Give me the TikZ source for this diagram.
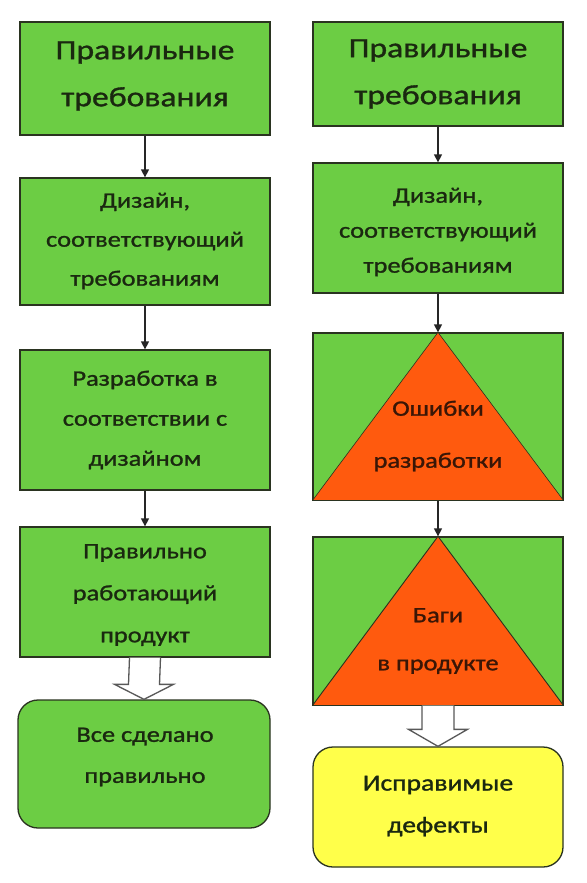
\documentclass[tikz,border=0pt]{standalone}
\usepackage{fontspec}
\setmainfont[FakeStretch=1.2,FakeBold=1.2]{Carlito}
\usetikzlibrary{arrows.meta,calc}
\definecolor{boxgreen}{HTML}{6CCD44}
\definecolor{boxorange}{HTML}{FF5A0E}
\definecolor{boxyellow}{HTML}{FFFF4A}
\definecolor{edgecol}{HTML}{2A3320}
\definecolor{txtcol}{HTML}{1A2810}
\definecolor{txtred}{HTML}{3A1606}
\definecolor{hollowcol}{HTML}{585858}
\tikzset{
  gbox/.style={draw=edgecol, line width=1.3pt, fill=boxgreen, inner sep=0pt, minimum width=250pt},
  rbox/.style={gbox, rounded corners=20pt},
  bigtxt/.style={text=txtcol, align=center, inner sep=0pt, font=\fontsize{28}{47}\selectfont},
  smalltxt/.style={text=txtcol, align=center, inner sep=0pt, font=\fontsize{22}{40}\selectfont},
  redtxt/.style={text=txtred, align=center, inner sep=0pt, font=\fontsize{22}{50}\selectfont},
  conn/.style={draw=black!85, line width=1.4pt, -{Triangle[length=8pt,width=8pt]}},
  hollow/.style={draw=hollowcol, line width=1.3pt, fill=white, line join=miter}
}
\begin{document}
\begin{tikzpicture}[x=1pt,y=-1pt]
\useasboundingbox[fill=white] (0,0) rectangle (586,883);
% left column
\node[gbox, minimum height=113pt] (L1) at (145,78.5) {};
\node[gbox, minimum height=127pt] (L2) at (145,241.5) {};
\node[gbox, minimum height=140pt] (L3) at (145,420) {};
\node[gbox, minimum height=130pt] (L4) at (145,592) {};
\node[rbox, minimum width=252pt, minimum height=128pt] (L5) at (144,764) {};
\node[bigtxt] (L1t) at (145,76) {Правильные\\требования};
\node[smalltxt, font=\fontsize{22}{39}\selectfont] (L2t) at (145,241) {Дизайн,\\соответствующий\\требованиям};
\node[smalltxt] (L3t) at (145,420) {Разработка в\\соответствии с\\дизайном};
\node[smalltxt, font=\fontsize{22}{42}\selectfont] (L4t) at (145,595) {Правильно\\работающий\\продукт};
\node[smalltxt, font=\fontsize{22}{41}\selectfont] (L5t) at (145,757) {Все сделано\\правильно};
\draw[conn] (L1.south) -- (L2.north);
\draw[conn] (L2.south) -- (L3.north);
\draw[conn] (L3.south) -- (L4.north);
\draw[hollow] ($(L4.south)+(-15.5,0)$) -- ($(L5.north)+(-15.5,-15)$) -- ($(L5.north)+(-29.5,-15)$)
  -- (L5.north) -- ($(L5.north)+(29.5,-15)$) -- ($(L5.north)+(15.5,-15)$) -- ($(L4.south)+(15.5,0)$);
% right column
\node[gbox, minimum height=104pt] (R1) at (438,74) {};
\node[gbox, minimum height=130pt] (R2) at (438,228) {};
\node[gbox, minimum height=167pt] (R3) at (438,416.5) {};
\node[gbox, minimum height=168pt] (R4) at (438,621) {};
\node[rbox, fill=boxyellow, minimum height=120pt] (R5) at (438,807) {};
\fill[boxorange] (R3.north) -- (R3.south east) -- (R3.south west) -- cycle;
\draw[edgecol, line width=0.6pt] (R3.south west) -- (R3.north) -- (R3.south east);
\fill[boxorange] (R4.north) -- (R4.south east) -- (R4.south west) -- cycle;
\draw[edgecol, line width=0.9pt] (R4.south west) -- (R4.north) -- (R4.south east);
\draw[edgecol, line width=1.3pt] (R3.north west) rectangle (R3.south east);
\draw[edgecol, line width=1.3pt] (R4.north west) rectangle (R4.south east);
\node[bigtxt] (R1t) at (438,74) {Правильные\\требования};
\node[smalltxt, font=\fontsize{22}{35}\selectfont] (R2t) at (438,232) {Дизайн,\\соответствующий\\требованиям};
\node[redtxt, font=\fontsize{22}{52}\selectfont] (R3t) at (438,436) {Ошибки\\разработки};
\node[redtxt, font=\fontsize{22}{48}\selectfont] (R4t) at (438,641) {Баги\\в продукте};
\node[smalltxt, font=\fontsize{23}{42}\selectfont] (R5t) at (438,806) {Исправимые\\дефекты};
\draw[conn] (R1.south) -- (R2.north);
\draw[conn] (R2.south) -- (R3.north);
\draw[conn] (R3.south) -- (R4.north);
\draw[hollow] ($(R4.south)+(-16,0)$) -- ($(R5.north)+(-16,-17)$) -- ($(R5.north)+(-29.5,-17)$)
  -- (R5.north) -- ($(R5.north)+(29.5,-17)$) -- ($(R5.north)+(16,-17)$) -- ($(R4.south)+(16,0)$);
\end{tikzpicture}
\end{document}
